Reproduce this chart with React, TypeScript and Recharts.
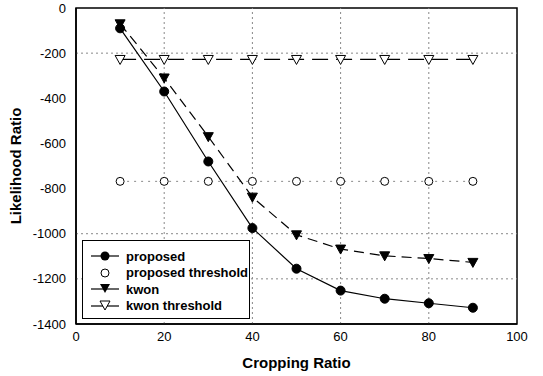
import React from 'react';
import { LineChart, Line, XAxis, YAxis, ReferenceLine, ReferenceArea } from 'recharts';

const ratios = [10, 20, 30, 40, 50, 60, 70, 80, 90];
const proposed = [-90, -370, -680, -975, -1155, -1252, -1288, -1308, -1328];
const proposedThreshold = [-768, -768, -768, -768, -768, -768, -768, -768, -768];
const kwon = [-70, -310, -570, -838, -1005, -1068, -1098, -1110, -1127];
const kwonThreshold = [-228, -228, -228, -228, -228, -228, -228, -228, -228];
const xTicks = [0, 20, 40, 60, 80, 100];
const yTicks = [0, -200, -400, -600, -800, -1000, -1200, -1400];
const hGrid = [-200, -1000, -1200];
const vGrid = [20, 40, 60, 80];

const data = ratios.map((r, i) => ({
  ratio: r,
  proposed: proposed[i],
  proposedThreshold: proposedThreshold[i],
  kwon: kwon[i],
  kwonThreshold: kwonThreshold[i],
}));

const FONT = '"Liberation Sans", Arial, sans-serif';

const FilledCircle = (p: any) => <circle key={`fc${p.index}`} cx={p.cx} cy={p.cy} r={4.5} fill="#000" stroke="#000" />;
const OpenCircle = (p: any) => <circle key={`oc${p.index}`} cx={p.cx} cy={p.cy} r={4} fill="#fff" stroke="#000" strokeWidth={1} />;
const tri = (cx: number, cy: number) => `M${cx - 5},${cy - 4} L${cx + 5},${cy - 4} L${cx},${cy + 5} Z`;
const FilledTri = (p: any) => <path key={`ft${p.index}`} d={tri(p.cx, p.cy)} fill="#000" stroke="#000" />;
const OpenTri = (p: any) => <path key={`ot${p.index}`} d={tri(p.cx, p.cy)} fill="#fff" stroke="#000" strokeWidth={1} />;

const legendItems = [
  { label: 'proposed', kind: 'fc', line: true },
  { label: 'proposed threshold', kind: 'oc', line: false },
  { label: 'kwon', kind: 'ft', line: true },
  { label: 'kwon threshold', kind: 'ot', line: true },
];

const LegendBox = () => (
  <div style={{ position: 'absolute', left: 82, top: 240, border: '1.5px solid #000', background: '#fff', width: 168, height: 79, boxSizing: 'border-box', paddingTop: 7 }}>
    {legendItems.map((it) => (
      <div key={it.label} style={{ display: 'flex', alignItems: 'center', height: 16.5, whiteSpace: 'nowrap' }}>
        <svg width={38} height={14} style={{ marginLeft: 6, flexShrink: 0 }}>
          {it.line && <line x1={2} y1={7} x2={30} y2={7} stroke="#000" strokeWidth={1.2} />}
          {it.kind === 'fc' && <circle cx={16} cy={7} r={4.5} fill="#000" />}
          {it.kind === 'oc' && <circle cx={16} cy={7} r={4} fill="#fff" stroke="#000" />}
          {it.kind === 'ft' && <path d={tri(16, 6)} fill="#000" />}
          {it.kind === 'ot' && <path d={tri(16, 6)} fill="#fff" stroke="#000" />}
        </svg>
        <span style={{ fontFamily: FONT, fontSize: 13, fontWeight: 'bold', color: '#000', marginLeft: -1 }}>{it.label}</span>
      </div>
    ))}
  </div>
);

export default function App() {
  return (
    <div style={{ position: 'absolute', left: 0, top: 0, width: 543, height: 376, background: '#fff' }}>
      <LineChart width={543} height={376} data={data} margin={{ top: 8, right: 26, bottom: 0, left: 0 }}>
        <XAxis
          dataKey="ratio"
          type="number"
          domain={[0, 100]}
          ticks={xTicks}
          height={52}
          tick={{ fill: '#000', fontSize: 13, fontFamily: FONT }}
          tickLine={false}
          axisLine={{ stroke: '#000', strokeWidth: 1.5 }}
          label={{ value: 'Cropping Ratio', position: 'insideBottom', offset: 8, fill: '#000', fontSize: 15, fontWeight: 'bold', fontFamily: FONT }}
        />
        <YAxis
          type="number"
          domain={[-1400, 0]}
          ticks={yTicks}
          width={76}
          tickMargin={4}
          tick={{ fill: '#000', fontSize: 13, fontFamily: FONT }}
          tickLine={false}
          axisLine={{ stroke: '#000', strokeWidth: 1.5 }}
          label={{ value: 'Likelihood Ratio', angle: -90, position: 'insideLeft', offset: 16, fill: '#000', fontSize: 15, fontWeight: 'bold', fontFamily: FONT, style: { textAnchor: 'middle' } }}
        />
        {hGrid.map((v) => (
          <ReferenceLine key={`h${v}`} y={v} stroke="#888" strokeDasharray="2 3" />
        ))}
        {vGrid.map((v) => (
          <ReferenceLine key={`v${v}`} x={v} stroke="#888" strokeDasharray="2 3" />
        ))}
        <ReferenceArea x1={0} x2={100} y1={-1400} y2={0} fill="none" stroke="#000" strokeWidth={1.5} ifOverflow="visible" />
        <Line dataKey="proposedThreshold" stroke="#888" strokeDasharray="2 5" strokeWidth={1} dot={OpenCircle} isAnimationActive={false} />
        <Line dataKey="kwonThreshold" stroke="#000" strokeDasharray="16 8" strokeWidth={1.2} dot={OpenTri} isAnimationActive={false} />
        <Line dataKey="kwon" stroke="#000" strokeDasharray="10 6" strokeWidth={1.2} dot={FilledTri} isAnimationActive={false} />
        <Line dataKey="proposed" stroke="#000" strokeWidth={1.2} dot={FilledCircle} isAnimationActive={false} />
      </LineChart>
      <LegendBox />
    </div>
  );
}
